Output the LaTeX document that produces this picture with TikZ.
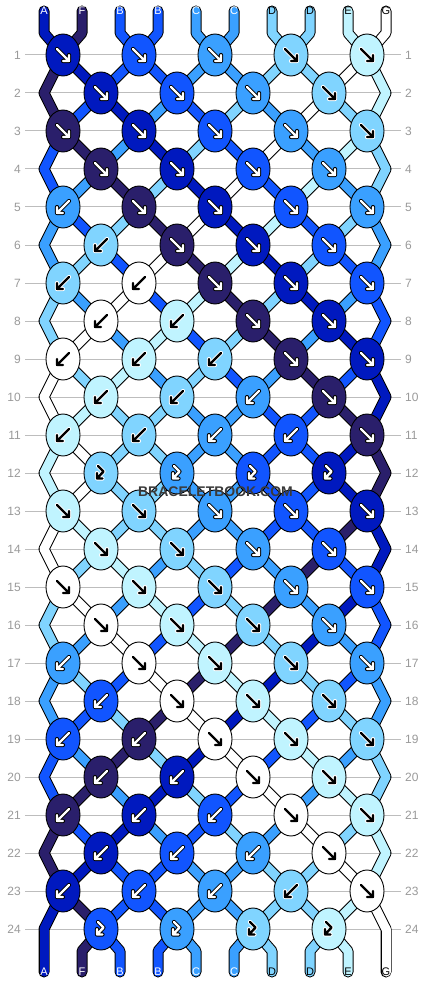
\documentclass[tikz,border=0pt]{standalone}
\usepackage{fontspec}
\setmainfont{Liberation Sans}
\usetikzlibrary{shapes.geometric}

\definecolor{cA}{HTML}{0019BF}
\definecolor{cF}{HTML}{2A1F6B}
\definecolor{cB}{HTML}{1155FF}
\definecolor{cC}{HTML}{3AA0FF}
\definecolor{cD}{HTML}{80D4FF}
\definecolor{cE}{HTML}{C0F4FF}
\definecolor{cG}{HTML}{FFFFFF}
\definecolor{rowgray}{HTML}{9A9A9A}
\definecolor{gridgray}{HTML}{BDBDBD}
\definecolor{markgray}{HTML}{3A3A3A}

% arrow colour and rim on each string colour
\def\inkA{white}\def\inkF{white}\def\inkB{white}\def\inkC{white}
\def\inkD{black}\def\inkE{black}\def\inkG{black}
\def\rimA{black}\def\rimF{black}\def\rimB{black}\def\rimC{black}
\def\rimD{white}\def\rimE{white}\def\rimG{white}

% knot arrows
\def\fwdpath{(-6,-6) -- (6,6) (6,0) -- (6,6) -- (0,6)}
\def\bwdpath{(6,-6) -- (-6,6) (-6,0) -- (-6,6) -- (0,6)}
\def\hookpath{(-3,-7) -- (2.5,-1.5) -- (-4,5.5) (-4,0) -- (-4,5.5) -- (1.5,5.5)}
\def\hookrow{x}

\begin{document}
\begin{tikzpicture}[x=1pt, y=-1pt,
  knot/.style={ellipse, draw=black, line width=0.9, minimum width=34, minimum height=42, inner sep=0},
  yarn/.style={line width=9, line cap=round, line join=round},
  yarnrim/.style={line width=11, line cap=round, line join=round, draw=black},
  rownum/.style={text=rowgray, font=\fontsize{12}{12}\selectfont, inner xsep=4},
  endlabel/.style={font=\fontsize{11}{11}\selectfont, inner sep=0},
  gridline/.style={draw=gridgray, line width=1},
  brand/.style={font=\bfseries\fontsize{14}{14}\selectfont, inner sep=0}]
\useasboundingbox (0,0) rectangle (430,984);
\fill[white] (0,0) rectangle (430,984);
% row numbers %
\foreach \row in {1,...,24}{
  \pgfmathsetmacro\yy{55+38*(\row-1)}
  \node[rownum, anchor=east] (ln-\row) at (25,\yy) {\row};
  \node[rownum, anchor=west] (rn-\row) at (401,\yy) {\row};
  \draw[gridline] (ln-\row.east) -- (rn-\row.west);
}
% string ends %
\foreach \i/\nm in {0/A,1/F,2/B,3/B,4/C,5/C,6/D,7/D,8/E,9/G}{
  \expandafter\xdef\csname s\i\endcsname{\nm}
  \pgfmathsetmacro\xx{44+38*\i}
  \coordinate (t-\i) at (\xx,11);
  \coordinate (p-0-\i) at (\xx,33);
  \coordinate (p-25-\i) at (\xx,951);
  \coordinate (e-\i) at (\xx,972);
}
% knotting, row by row: number of backward knots on the left, x = knots that stay
\foreach \row/\nb in {1/0,2/0,3/0,4/0,5/1,6/1,7/2,8/2,9/3,10/3,11/4,12/x,
                      13/0,14/0,15/0,16/0,17/1,18/1,19/2,20/2,21/3,22/3,23/4,24/x}{
  \pgfmathsetmacro\yy{55+38*(\row-1)}
  \pgfmathtruncatemacro\rowodd{mod(\row,2)}
  \foreach \i in {0,...,9}{
    \pgfmathsetmacro\xx{ifthenelse(\rowodd==1, 63+76*floor(\i/2),
      ifthenelse(\i==0, 44, ifthenelse(\i==9, 386, 101+76*floor((\i-1)/2))))}
    \coordinate (p-\row-\i) at (\xx,\yy);
    \expandafter\xdef\csname col-\row-\i\endcsname{\csname s\i\endcsname}
  }
  \pgfmathtruncatemacro\off{1-\rowodd}
  \pgfmathtruncatemacro\nk{3+\rowodd}
  \foreach \kn in {0,...,\nk}{
    \pgfmathtruncatemacro\kl{2*\kn+\off}
    \pgfmathtruncatemacro\kr{\kl+1}
    \edef\colL{\csname s\kl\endcsname}
    \edef\colR{\csname s\kr\endcsname}
    \ifx\nb\hookrow
      \let\kc\colR \def\ka{hook}
    \else
      \ifnum\kn<\nb\relax
        \let\kc\colR \def\ka{bwd}
      \else
        \let\kc\colL \def\ka{fwd}
      \fi
      \expandafter\xdef\csname s\kl\endcsname{\colR}%
      \expandafter\xdef\csname s\kr\endcsname{\colL}%
    \fi
    \expandafter\xdef\csname kc-\row-\kn\endcsname{\kc}%
    \expandafter\xdef\csname ka-\row-\kn\endcsname{\ka}%
    \expandafter\xdef\csname kp-\row-\kn\endcsname{\kl}%
  }
}
\foreach \i in {0,...,9}{\expandafter\xdef\csname col-25-\i\endcsname{\csname s\i\endcsname}}
% strings: black rims first, then colours
\foreach \i in {0,...,9}{
  \draw[yarnrim] (t-\i) \foreach \row in {0,...,25}{ -- (p-\row-\i)} -- (e-\i);
}
\foreach \row in {1,...,25}{
  \pgfmathtruncatemacro\prow{\row-1}
  \foreach \i in {0,...,9}{
    \edef\strcol{c\csname col-\row-\i\endcsname}
    \ifnum\row=1
      \draw[yarn, draw=\strcol] (t-\i) -- (p-0-\i) -- (p-1-\i);
    \else\ifnum\row=25
      \draw[yarn, draw=\strcol] (p-24-\i) -- (p-25-\i) -- (e-\i);
    \else
      \draw[yarn, draw=\strcol] (p-\prow-\i) -- (p-\row-\i);
    \fi\fi
  }
}
% knots %
\foreach \row in {1,...,24}{
  \pgfmathtruncatemacro\nk{3+mod(\row,2)}
  \foreach \kn in {0,...,\nk}{
    \edef\kc{\csname kc-\row-\kn\endcsname}
    \edef\kl{\csname kp-\row-\kn\endcsname}
    \edef\ink{\csname ink\kc\endcsname}
    \edef\rim{\csname rim\kc\endcsname}
    \expandafter\let\expandafter\arrowpath\csname\csname ka-\row-\kn\endcsname path\endcsname
    \node[knot, fill=c\kc] (k-\row-\kn) at (p-\row-\kl) {};
    \draw[shift={(k-\row-\kn)}, line width=4.2, line cap=round, line join=round, draw=\rim] \arrowpath;
    \draw[shift={(k-\row-\kn)}, line width=2.4, line cap=round, line join=round, draw=\ink] \arrowpath;
  }
}
% string labels %
\foreach \i/\nm in {0/A,1/F,2/B,3/B,4/C,5/C,6/D,7/D,8/E,9/G}{
  \edef\ink{\csname ink\nm\endcsname}
  \node[endlabel, text=\ink] (top-\i) at (t-\i) {\nm};
  \node[endlabel, text=\ink] (bot-\i) at (e-\i) {\nm};
}
% watermark %
\node[brand, text=markgray] (mark) at (215.5,491.5) {BRACELETBOOK.COM};
\end{tikzpicture}
\end{document}
